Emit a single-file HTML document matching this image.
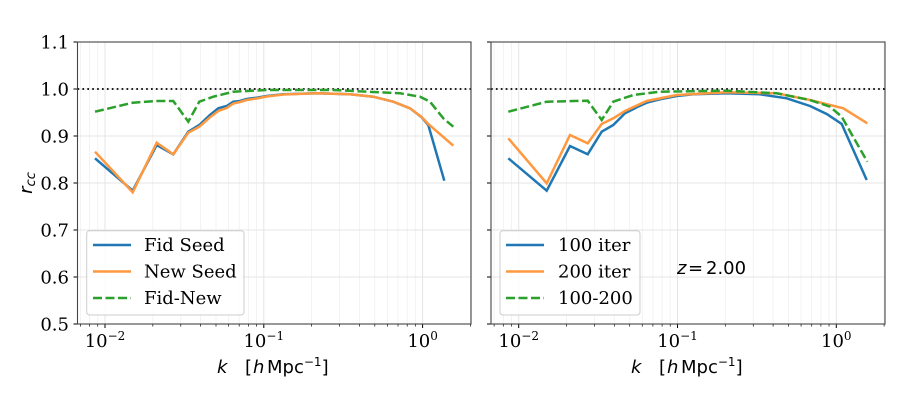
<!DOCTYPE html>
<html><head><meta charset="utf-8"><style>
body{margin:0;background:#fff;}
svg{display:block;}
.t{font-family:"DejaVu Serif","Liberation Serif",serif;font-size:18px;fill:#000;}
.s{font-family:"DejaVu Sans","Liberation Sans",sans-serif;font-size:18px;fill:#000;}
</style></head><body>
<svg id="c" width="900" height="400" xmlns="http://www.w3.org/2000/svg">
<rect width="900" height="400" fill="#fff"/>
<g id="grid"></g>
<line x1="77.5" y1="89" x2="471" y2="89" stroke="#000" stroke-width="1.7" stroke-dasharray="1.7,3.2"/>
<line x1="491" y1="89" x2="885" y2="89" stroke="#000" stroke-width="1.7" stroke-dasharray="1.7,3.2"/>
<polyline fill="none" stroke="#1f77b4" stroke-width="2.5" points="95,158.3 132.7,190.7 156.7,145 173.3,154.3 188.3,131.7 199.3,125 210,115 218.3,108.3 226.7,106 233.3,101.7 240,101 246.7,99 256.7,97.7 266.7,96 283.3,94.3 316.7,93.3 350,94.3 373.3,96.7 393.3,101.7 410,108.3 421.7,117.3 428.3,125 444.3,180.7"/>
<polyline fill="none" stroke="#ff983e" stroke-width="2.5" points="95,151.7 132.7,192.3 156.7,142.7 173.3,154.3 188.3,132.7 199.3,126.7 210,117.3 218.3,111 226.7,108 233.3,103.5 240,102 246.7,100 256.7,98.5 266.7,96.5 283.3,94.5 316.7,93.3 350,94.3 373.3,96.7 393.3,101.7 410,108.3 421.7,117 428.3,124 453.3,145.7"/>
<polyline fill="none" stroke="#2ca02c" stroke-width="2.5" stroke-dasharray="9,3.5" points="95,111.7 132.7,102.7 156.7,101 173.3,101 188.3,121.7 199.3,101.7 213.3,96.7 233.3,91.7 266.7,90 333,90 400,93.3 420,96.7 430,101.7 443.3,118.3 453.3,126.7"/>
<polyline fill="none" stroke="#1f77b4" stroke-width="2.5" points="508.3,158.3 546.7,190.7 570,146 587.7,154.3 601.7,131.7 613.3,125 625,113.3 636.7,107.3 646.7,102.7 660,99.3 676.7,96 693.3,94.3 726.7,93.3 760,94.3 786.7,98.3 810,106 826.7,114 841.7,124 866.7,180"/>
<polyline fill="none" stroke="#ff983e" stroke-width="2.5" points="508.3,138.3 546.7,183.3 570,135 587.7,143.3 601.7,124 613.3,118.3 625,111 646.7,101 676.7,95 726.7,92.3 776.7,93.3 810,100 843.3,108.3 867.3,123.3"/>
<polyline fill="none" stroke="#2ca02c" stroke-width="2.5" stroke-dasharray="9,3.5" points="508.3,111.7 546.7,101.7 587.7,100.7 601.7,120 613.3,101.7 633.3,95 660,91.7 726.7,90.7 776.7,93.3 810,100 830,106.7 841.7,116.7 867.3,161.7"/>
<g id="ticks"></g>
<rect x="77.5" y="42" width="393.5" height="282" fill="none" stroke="#444" stroke-width="1.1"/>
<rect x="491" y="42" width="394" height="282" fill="none" stroke="#444" stroke-width="1.1"/>
<rect x="86.7" y="230.7" width="157.3" height="84.3" rx="3" fill="#fff" fill-opacity="0.85" stroke="#ccc"/>
<line x1="93" y1="245" x2="131" y2="245" stroke="#1f77b4" stroke-width="2.5"/>
<line x1="93" y1="271.5" x2="131" y2="271.5" stroke="#ff983e" stroke-width="2.5"/>
<line x1="93" y1="298" x2="131" y2="298" stroke="#2ca02c" stroke-width="2.5" stroke-dasharray="9,3.5"/>
<text class="t" x="144" y="251">Fid Seed</text>
<text class="t" x="144" y="277.5">New Seed</text>
<text class="t" x="144" y="304">Fid-New</text>
<rect x="500" y="230.7" width="140" height="84.3" rx="3" fill="#fff" fill-opacity="0.85" stroke="#ccc"/>
<line x1="506" y1="245" x2="544" y2="245" stroke="#1f77b4" stroke-width="2.5"/>
<line x1="506" y1="271.5" x2="544" y2="271.5" stroke="#ff983e" stroke-width="2.5"/>
<line x1="506" y1="298" x2="544" y2="298" stroke="#2ca02c" stroke-width="2.5" stroke-dasharray="9,3.5"/>
<text class="t" x="558" y="251">100 iter</text>
<text class="t" x="558" y="277.5">200 iter</text>
<text class="t" x="558" y="304">100-200</text>
<text class="s" x="677" y="274"><tspan font-style="italic">z</tspan><tspan x="688">=</tspan><tspan x="706">2.00</tspan></text>
<text class="s" x="217" y="373"><tspan font-style="italic">k</tspan><tspan x="245">[</tspan><tspan x="253" font-style="italic">h</tspan><tspan x="267">Mpc</tspan><tspan dy="-7" font-size="12">−1</tspan><tspan dy="7">]</tspan></text>
<text class="s" x="631" y="373"><tspan font-style="italic">k</tspan><tspan x="659">[</tspan><tspan x="667" font-style="italic">h</tspan><tspan x="681">Mpc</tspan><tspan dy="-7" font-size="12">−1</tspan><tspan dy="7">]</tspan></text>
<text class="s" transform="translate(32,183) rotate(-90)" text-anchor="middle" font-style="italic">r<tspan font-size="13" dy="3">cc</tspan></text>
</svg>
<script>
var NS="http://www.w3.org/2000/svg";
var g=document.getElementById("grid"),tk=document.getElementById("ticks");
function el(p,n,a,txt){var e=document.createElementNS(NS,n);for(var k in a)e.setAttribute(k,a[k]);if(txt!==undefined)e.innerHTML=txt;p.appendChild(e);return e;}
var panels=[{x0:77.5,x1:471,d:105},{x0:491,x1:885,d:518.7}];
var dec=158.8;
panels.forEach(function(p,pi){
  for(var e=-3;e<=0;e++){for(var m=1;m<10;m++){
    var x=p.d+(e+2+Math.log10(m))*dec;
    if(x<p.x0+0.5||x>p.x1-0.5)continue;
    el(g,"line",{x1:x,y1:42,x2:x,y2:324,stroke:m==1?"#e4e4e4":"#f0f0f0","stroke-width":m==1?1:0.8});
    el(tk,"line",{x1:x,y1:324,x2:x,y2:m==1?328:326.5,stroke:"#000","stroke-width":m==1?1:0.7});
    if(m==1){var t=el(tk,"text",{class:"t",x:x,y:347,"text-anchor":"middle"});t.innerHTML='10<tspan dy="-7" font-size="12">'+(e==0?'0':'−'+(-e))+'</tspan>';}
  }}
  for(var i=0;i<=6;i++){var y=324-i*47;
    if(i>0&&i<6)el(g,"line",{x1:p.x0,y1:y,x2:p.x1,y2:y,stroke:"#e4e4e4","stroke-width":1});
    el(tk,"line",{x1:p.x0-4,y1:y,x2:p.x0,y2:y,stroke:"#000","stroke-width":1});
    if(pi==0)el(tk,"text",{class:"t",x:69,y:y+6.5,"text-anchor":"end"},(0.5+i*0.1).toFixed(1));
  }
});
</script>
</body></html>
